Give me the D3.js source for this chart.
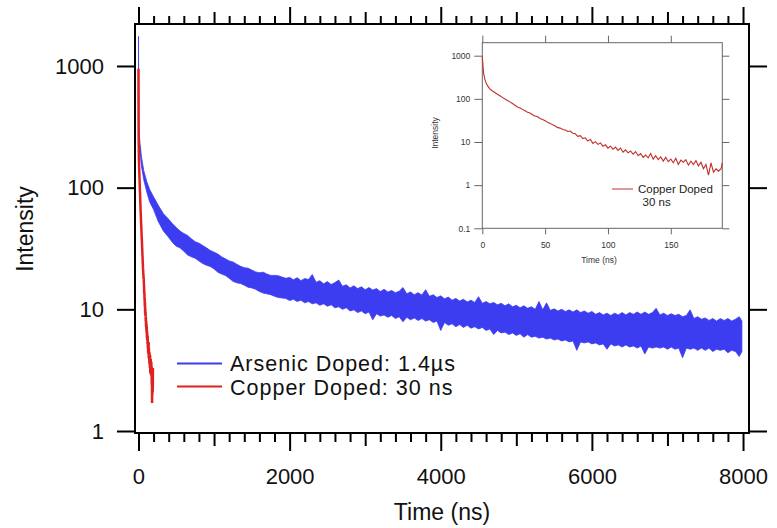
<!DOCTYPE html>
<html>
<head>
<meta charset="utf-8">
<script src="https://cdn.jsdelivr.net/npm/d3@7"></script>
<style>
body { margin: 0; background: #fff; }
svg text { font-family: "Liberation Sans", Arial, sans-serif; }
</style>
</head>
<body>
<div id="chart"></div>
<script>
// Arsenic doped: noisy band, read as upper / lower envelope of the trace
var asTime = [0, 2, 5, 10, 20, 40, 70, 110, 150, 200, 260, 330, 400,
  450, 500, 550, 600, 650, 700, 750, 800, 850, 900, 950, 1000, 1050, 1100, 1150, 1200, 1250, 1300,
  1350, 1400, 1450, 1500, 1550, 1600, 1650, 1700, 1750, 1800, 1850, 1900, 1950,
  2000, 2050, 2100, 2150, 2200, 2250, 2300, 2350, 2400, 2450,
  2500, 2550, 2600, 2650, 2700, 2750, 2800, 2850, 2900, 2950,
  3000, 3050, 3100, 3150, 3200, 3250, 3300, 3350, 3400, 3450,
  3500, 3550, 3600, 3650, 3700, 3750, 3800, 3850, 3900, 3950,
  4000, 4050, 4100, 4150, 4200, 4250, 4300, 4350, 4400, 4450,
  4500, 4550, 4600, 4650, 4700, 4750, 4800, 4850, 4900, 4950,
  5000, 5050, 5100, 5150, 5200, 5250, 5300, 5350, 5400, 5450,
  5500, 5550, 5600, 5650, 5700, 5750, 5800, 5850, 5900, 5950,
  6000, 6050, 6100, 6150, 6200, 6250, 6300, 6350, 6400, 6450,
  6500, 6550, 6600, 6650, 6700, 6750, 6800, 6850, 6900, 6950,
  7000, 7050, 7100, 7150, 7200, 7250, 7300, 7350, 7400, 7450,
  7500, 7550, 7600, 7650, 7700, 7750, 7800, 7850, 7900, 7950,
  7985];
var asHigh = [1750, 700, 330, 280, 232, 178, 138, 112, 96, 84, 72, 61, 55,
  50.5, 47, 44, 42, 40.5, 38, 36, 35, 33.5, 32, 30.5, 29.5, 28.5, 27, 26, 25, 24.5, 23.5,
  22.6, 22, 21.8, 21, 20.3, 20, 20.2, 19.5, 19, 19, 18.9, 18.4, 18.0,
  18.3, 17.5, 18.2, 17.2, 17.9, 17.6, 19.3, 16.7, 17.2, 16.2,
  16.9, 16.0, 16.6, 17.4, 15.5, 15.9, 15.0, 15.6, 14.8, 15.3,
  14.5, 15.1, 14.4, 14.8, 14.0, 14.6, 13.9, 14.3, 13.7, 14.1,
  15.1, 13.4, 13.9, 13.2, 13.7, 13.1, 14.5, 12.8, 13.2, 12.5,
  12.9, 12.2, 12.6, 11.9, 12.3, 11.7, 12.1, 11.5, 11.9, 11.4,
  12.7, 11.2, 11.6, 11.1, 11.4, 10.9, 11.2, 10.7, 11.1, 10.5,
  10.8, 10.3, 10.7, 10.2, 10.5, 10.0, 11.6, 9.9, 11.3, 9.8,
  10.1, 9.7, 10.0, 9.6, 9.9, 9.5, 9.9, 9.4, 9.7, 9.3,
  9.6, 9.1, 9.4, 9.0, 9.3, 8.9, 9.3, 9.0, 9.4, 9.0,
  9.4, 9.1, 9.5, 9.1, 9.5, 9.1, 9.4, 10.2, 9.0, 9.3,
  8.9, 9.2, 8.9, 9.1, 8.7, 8.9, 9.9, 8.4, 8.7, 8.3,
  8.5, 8.1, 8.4, 8.0, 8.4, 8.1, 8.4, 8.0, 8.3, 8.7,
  8.0];
var asLow = [1500, 450, 270, 240, 200, 150, 116, 92, 76, 66, 53, 44, 39,
  35.5, 33, 32, 30, 28, 27, 26.3, 25, 23.8, 23, 22.5, 21.5, 20.2, 19.5, 19, 18, 17, 16.5,
  16.3, 15.8, 15.2, 15, 14.6, 14, 13.6, 13.4, 13.2, 12.8, 12.5, 12.4, 12.3,
  11.8, 12.1, 11.6, 11.9, 11.3, 11.6, 11.1, 11.3, 10.8, 11.1,
  10.6, 10.9, 10.3, 10.5, 10.0, 10.3, 9.7, 9.9, 9.4, 9.7,
  9.2, 9.5, 8.2, 9.2, 8.8, 9.0, 8.6, 8.9, 8.4, 8.7,
  7.9, 8.6, 8.2, 8.5, 8.1, 8.4, 8.0, 8.2, 7.8, 8.0,
  6.7, 7.8, 7.4, 7.6, 7.2, 7.5, 7.1, 7.4, 7.0, 7.2,
  6.9, 7.1, 6.7, 6.9, 6.2, 6.7, 6.4, 6.5, 6.2, 6.4,
  6.1, 6.3, 5.9, 6.2, 5.9, 6.0, 5.8, 5.9, 5.7, 5.8,
  5.6, 5.7, 5.5, 5.6, 5.4, 5.5, 4.6, 5.4, 5.3, 5.4,
  5.2, 5.3, 5.1, 5.2, 4.7, 5.2, 5.0, 5.1, 4.9, 5.1,
  4.9, 5.0, 4.8, 5.0, 4.3, 4.9, 4.8, 4.9, 4.8, 4.9,
  4.7, 4.9, 4.7, 4.8, 4.0, 4.8, 4.7, 4.8, 4.6, 4.8,
  4.6, 4.8, 4.5, 4.7, 4.6, 4.7, 4.4, 4.6, 4.5, 4.1,
  4.5];

// Copper doped trace (also shown in the inset)
var cuTime = [0, 1, 2, 3, 4, 6, 8, 10, 12, 14, 16, 18, 20, 22, 24, 26, 28, 30, 32, 34, 36, 38, 40,
  42, 44, 46, 48, 50, 52, 54, 56, 58, 60, 62, 64, 66, 68, 70, 72, 74, 76, 78, 80, 82, 84, 86, 88,
  90, 92, 94, 96, 98, 100, 102, 104, 106, 108, 110, 112, 114, 116, 118, 120, 122, 124, 126, 128,
  130, 132, 134, 136, 138, 140, 142, 144, 146, 148, 150, 152, 154, 156, 158, 160, 162, 164, 166,
  168, 170, 172, 174, 176, 178, 180, 182, 184, 186, 188, 190, 191];
var cuValue = [950, 400, 285, 235, 205, 170, 152, 140, 128, 118, 108, 99, 92, 85, 78, 71, 65, 61,
  57, 53, 49, 47, 43, 40, 38.5, 35, 33, 31, 28.5, 27, 25, 23.5, 21.5, 21, 19.5, 19, 17.5, 18, 16,
  15.5, 13.5, 14, 12, 12.5, 10.5, 11.5, 9.2, 10.2, 8.8, 9.5, 8.0, 8.6, 7.2, 8.0, 6.8, 7.6, 6.4,
  7.2, 5.8, 6.6, 5.6, 6.2, 5.2, 6.0, 4.8, 5.4, 4.4, 5.0, 4.3, 5.4, 4.0, 4.8, 3.9, 4.5, 3.6, 4.4,
  3.5, 4.0, 3.3, 4.2, 3.0, 3.8, 3.4, 3.9, 2.9, 3.6, 3.0, 3.7, 2.8, 3.4, 2.4, 3.0, 1.7, 3.3, 2.0,
  2.4, 2.1, 2.4, 3.3];

var xMajor = [0, 2000, 4000, 6000, 8000];
var xMid = [1000, 3000, 5000, 7000];
var xMinor = d3.range(200, 8000, 200).filter(function(d) { return d % 1000 !== 0; });
var yTicks = [1, 10, 100, 1000];
var insetXTicks = [0, 50, 100, 150];
var insetYTicks = [0.1, 1, 10, 100, 1000];

var asData = asTime.map(function(t, i) { return {t: t, hi: asHigh[i], lo: asLow[i]}; });
var cuData = cuTime.map(function(t, i) { return {t: t, v: cuValue[i]}; });

var blue = "#3c3cf0", red = "#e0211f", insetRed = "#c0302c";

var svg = d3.select("#chart").append("svg")
    .attr("width", 777)
    .attr("height", 528);

var x = d3.scaleLinear().domain([-46, 8079]).range([135, 749]);
var y = d3.scaleLog().domain([0.963, 2213]).range([433, 24]);

function styleAxis(g, w) {
  g.select(".domain").remove();
  g.selectAll("line").attr("stroke", "#000").attr("stroke-width", w);
}

// bottom / top ticks
[[xMajor, 18], [xMid, 13], [xMinor, 9]].forEach(function(s) {
  var gb = svg.append("g")
      .attr("transform", "translate(0,433)")
      .call(d3.axisBottom(x).tickValues(s[0]).tickSize(s[1]).tickFormat(""));
  styleAxis(gb, 2);
  var gt = svg.append("g")
      .attr("transform", "translate(0,24)")
      .call(d3.axisTop(x).tickValues(s[0]).tickSize(s[1] - 1).tickFormat(""));
  styleAxis(gt, 2);
});

var gx = svg.append("g")
    .attr("transform", "translate(0,433)")
    .call(d3.axisBottom(x).tickValues(xMajor).tickSize(0).tickPadding(51).tickFormat(d3.format("d")));
gx.select(".domain").remove();
gx.selectAll("text").attr("dy", null).style("font-size", "22px").attr("fill", "#111")
    .attr("font-family", "Liberation Sans, Arial, sans-serif");

var gl = svg.append("g")
    .attr("transform", "translate(135,0)")
    .call(d3.axisLeft(y).tickValues(yTicks).tickSize(18).tickPadding(13).tickFormat(d3.format("d")));
styleAxis(gl, 2);
gl.selectAll("text").attr("dy", "0.33em").style("font-size", "22px").attr("fill", "#111")
    .attr("font-family", "Liberation Sans, Arial, sans-serif");

var gr = svg.append("g")
    .attr("transform", "translate(749,0)")
    .call(d3.axisRight(y).tickValues(yTicks).tickSize(18).tickFormat(""));
styleAxis(gr, 2);

// blue band
svg.append("path")
    .datum(asData)
    .attr("fill", blue)
    .attr("stroke", blue)
    .attr("stroke-width", 0.8)
    .attr("d", d3.area()
      .x(function(d) { return x(d.t); })
      .y0(function(d) { return y(d.lo); })
      .y1(function(d) { return y(d.hi); }));

// red line
svg.append("path")
    .datum(cuData)
    .attr("fill", "none")
    .attr("stroke", red)
    .attr("stroke-width", 2.5)
    .attr("d", d3.line()
      .x(function(d) { return x(d.t); })
      .y(function(d) { return y(d.v); }));

// frame
svg.append("rect")
    .attr("x", 135).attr("y", 24)
    .attr("width", 614).attr("height", 409)
    .attr("fill", "none")
    .attr("stroke", "#000")
    .attr("stroke-width", 2);

// axis titles
svg.append("text")
    .attr("x", 442).attr("y", 520)
    .attr("text-anchor", "middle")
    .style("font-size", "23px")
    .attr("fill", "#111")
    .text("Time (ns)");

svg.append("text")
    .attr("transform", "translate(33,229) rotate(-90)")
    .attr("text-anchor", "middle")
    .style("font-size", "23px")
    .attr("fill", "#111")
    .text("Intensity");

// legend
svg.append("line")
    .attr("x1", 177).attr("x2", 222).attr("y1", 363.5).attr("y2", 363.5)
    .attr("stroke", blue).attr("stroke-width", 2);
svg.append("line")
    .attr("x1", 177).attr("x2", 222).attr("y1", 386.5).attr("y2", 386.5)
    .attr("stroke", red).attr("stroke-width", 2);
svg.append("text")
    .attr("x", 230).attr("y", 370.5)
    .style("font-size", "21.5px").style("letter-spacing", "1px").attr("fill", "#111")
    .text("Arsenic Doped: 1.4µs");
svg.append("text")
    .attr("x", 230).attr("y", 394.5)
    .style("font-size", "21.5px").style("letter-spacing", "1px").attr("fill", "#111")
    .text("Copper Doped: 30 ns");

// inset
var xi = d3.scaleLinear().domain([0, 191]).range([482.3, 722.3]);
var yi = d3.scaleLog().domain([0.1, 2000]).range([228.3, 42.7]);

svg.append("rect")
    .attr("x", 482.3).attr("y", 42.7)
    .attr("width", 240).attr("height", 185.6)
    .attr("fill", "#fff")
    .attr("stroke", "#666")
    .attr("stroke-width", 1);

function styleInset(g) {
  g.select(".domain").remove();
  g.selectAll("line").attr("stroke", "#666").attr("stroke-width", 1);
  g.selectAll("text").style("font-size", "8.5px").attr("fill", "#333")
      .attr("font-family", "Liberation Sans, Arial, sans-serif");
}

styleInset(svg.append("g").attr("transform", "translate(0,228.3)")
    .call(d3.axisBottom(xi).tickValues(insetXTicks).tickSize(6).tickPadding(8)));
styleInset(svg.append("g").attr("transform", "translate(0,42.7)")
    .call(d3.axisTop(xi).tickValues(insetXTicks).tickSize(7).tickFormat("")));
styleInset(svg.append("g").attr("transform", "translate(482.3,0)")
    .call(d3.axisLeft(yi).tickValues(insetYTicks).tickSize(8).tickPadding(4).tickFormat(d3.format("~g"))));
styleInset(svg.append("g").attr("transform", "translate(722.3,0)")
    .call(d3.axisRight(yi).tickValues(insetYTicks).tickSize(7).tickFormat("")));

svg.append("path")
    .datum(cuData)
    .attr("fill", "none")
    .attr("stroke", insetRed)
    .attr("stroke-width", 1.1)
    .attr("d", d3.line()
      .x(function(d) { return xi(d.t); })
      .y(function(d) { return yi(d.v); }));

svg.append("text")
    .attr("x", 599).attr("y", 262.5)
    .attr("text-anchor", "middle")
    .style("font-size", "8.5px").attr("fill", "#333")
    .text("Time (ns)");
svg.append("text")
    .attr("transform", "translate(438,133) rotate(-90)")
    .attr("text-anchor", "middle")
    .style("font-size", "8.5px").attr("fill", "#333")
    .text("Intensity");

svg.append("line")
    .attr("x1", 612).attr("x2", 633).attr("y1", 189).attr("y2", 189)
    .attr("stroke", insetRed).attr("stroke-width", 1);
svg.append("text")
    .attr("x", 638).attr("y", 193.3)
    .style("font-size", "11.5px").attr("fill", "#222")
    .text("Copper Doped");
svg.append("text")
    .attr("x", 642.5).attr("y", 205.5)
    .style("font-size", "11.5px").attr("fill", "#222")
    .text("30 ns");
</script>
</body>
</html>
